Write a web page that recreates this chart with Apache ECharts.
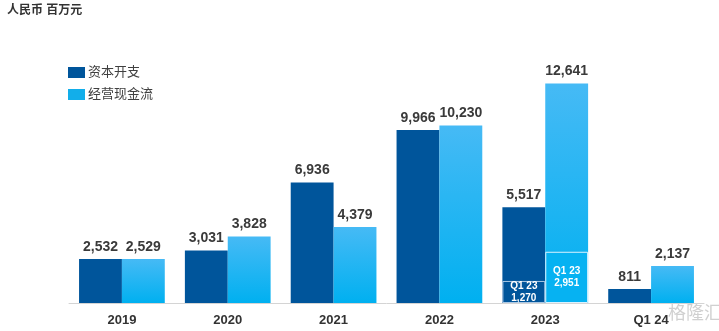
<!DOCTYPE html>
<html>
<head>
<meta charset="utf-8">
<script src="https://cdn.jsdelivr.net/npm/echarts@6/dist/echarts.min.js"></script>
<style>
  html, body { margin: 0; padding: 0; background: #fff; }
  #chart { width: 719px; height: 331px; }
</style>
</head>
<body>
<div id="chart"></div>
<script>
// Categories and values (人民币 百万元)
const categories = ['2019', '2020', '2021', '2022', '2023', 'Q1 24'];
const capex = [2532, 3031, 6936, 9966, 5517, 811];          // 资本开支
const operatingCash = [2529, 3828, 4379, 10230, 12641, 2137]; // 经营现金流
// Q1 2023 figures shown inside the 2023 bars
const capexQ1 = [null, null, null, null, 1270, null];
const operatingCashQ1 = [null, null, null, null, 2951, null];

const FONT = '"Liberation Sans", Arial, "Noto Sans CJK SC", sans-serif';
const DARK = '#00559b';
const LIGHT = '#12aeea';
const lightGradient = new echarts.graphic.LinearGradient(0, 0, 0, 1, [
  { offset: 0, color: '#46baf5' },
  { offset: 1, color: '#00b0f0' }
]);
const fmt = v => Number(v).toLocaleString('en-US');

const chart = echarts.init(document.getElementById('chart'), null, { renderer: 'canvas' });

const valueLabel = {
  show: true,
  position: 'top',
  distance: 5,
  fontFamily: FONT,
  fontSize: 14,
  fontWeight: 'bold',
  color: '#3a3a3a',
  formatter: p => fmt(p.value)
};
const innerLabel = {
  show: true,
  position: 'inside',
  fontFamily: FONT,
  fontSize: 10,
  fontWeight: 'bold',
  lineHeight: 12,
  color: '#ffffff',
  formatter: p => 'Q1 23\n' + fmt(p.value)
};

chart.setOption({
  animation: false,
  title: {
    text: '人民币 百万元',
    left: 2,
    top: 0,
    textStyle: { fontFamily: FONT, fontSize: 12, fontWeight: 'bold', color: '#333' }
  },
  legend: {
    orient: 'vertical',
    left: 68,
    top: 66,
    padding: 0,
    itemWidth: 17,
    itemHeight: 11,
    itemGap: 9,
    icon: 'rect',
    textStyle: { fontFamily: FONT, fontSize: 13, color: '#404040', padding: [0, 0, 0, -2] },
    data: [
      { name: '资本开支', itemStyle: { color: DARK } },
      { name: '经营现金流', itemStyle: { color: LIGHT } }
    ]
  },
  grid: { left: 69, right: 15, top: 60, bottom: 28 },
  xAxis: [
    {
      type: 'category',
      data: categories,
      axisLine: { lineStyle: { color: '#d4d4d4', width: 1 } },
      axisTick: { show: false },
      axisLabel: {
        margin: 11,
        fontFamily: FONT,
        fontSize: 13,
        fontWeight: 'bold',
        color: '#333'
      }
    },
    {
      // Mirror axis used to overlay the Q1 2023 boxes onto the 2023 bars
      type: 'category',
      data: categories,
      show: false
    }
  ],
  yAxis: { type: 'value', min: 0, max: 14000, show: false },
  series: [
    {
      name: '资本开支',
      type: 'bar',
      data: capex,
      barGap: '0%',
      barCategoryGap: '19%',
      itemStyle: { color: DARK },
      label: valueLabel
    },
    {
      name: '经营现金流',
      type: 'bar',
      data: operatingCash,
      barGap: '0%',
      barCategoryGap: '19%',
      itemStyle: { color: lightGradient },
      label: valueLabel
    },
    {
      name: '资本开支 Q1 23',
      type: 'bar',
      xAxisIndex: 1,
      data: capexQ1,
      barGap: '0%',
      barCategoryGap: '19%',
      itemStyle: { color: DARK, borderColor: 'rgba(200,220,240,0.85)', borderWidth: 1 },
      label: innerLabel
    },
    {
      name: '经营现金流 Q1 23',
      type: 'bar',
      xAxisIndex: 1,
      data: operatingCashQ1,
      barGap: '0%',
      barCategoryGap: '19%',
      itemStyle: { color: '#06b2f2', borderColor: 'rgba(230,245,255,0.95)', borderWidth: 1 },
      label: innerLabel
    }
  ],
  graphic: [
    {
      type: 'text',
      left: 668,
      top: 303,
      style: {
        text: '格隆汇',
        fontFamily: '"Noto Sans CJK SC", sans-serif',
        fontSize: 18,
        fill: 'rgba(150,150,150,0.45)'
      }
    }
  ]
});
</script>
</body>
</html>
